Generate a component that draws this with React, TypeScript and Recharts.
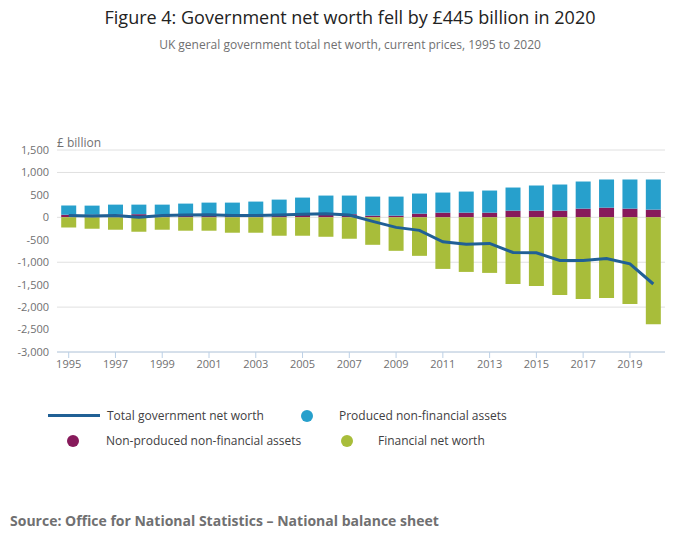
import React from 'react';
import { ComposedChart, Bar, Line, XAxis, YAxis, CartesianGrid } from 'recharts';

const years = Array.from({ length: 26 }, (_, i) => String(1995 + i));
const nonProduced = [60, 60, 65, 70, 60, 65, 70, 60, 60, 65, 75, 75, 70, 37, 37, 82, 104, 104, 104, 149, 149, 149, 194, 216, 194, 172];
const produced = [201, 201, 218, 213, 223, 241, 258, 268, 291, 330, 365, 410, 415, 425, 425, 448, 448, 470, 493, 515, 560, 582, 604, 627, 649, 671];
const financial = [-224, -254, -276, -321, -276, -298, -298, -343, -343, -410, -410, -433, -477, -612, -746, -858, -1149, -1216, -1238, -1484, -1529, -1730, -1820, -1797, -1932, -2380];
const netWorth = [40, 30, 40, 0, 40, 50, 60, 40, 40, 50, 70, 80, 50, -90, -224, -290, -545, -597, -582, -783, -791, -962, -962, -918, -1037, -1485];
const yTicks = [1500, 1000, 500, 0, -500, -1000, -1500, -2000, -2500, -3000];

const data = years.map((year, i) => ({
  year,
  nonProduced: nonProduced[i],
  produced: produced[i],
  financial: financial[i],
  netWorth: netWorth[i],
}));

const font = '"Open Sans", sans-serif';
const fmt = (v: number) => v.toLocaleString('en-GB');

const Dot = ({ color }: { color: string }) => (
  <span style={{ display: 'inline-block', width: 12, height: 12, borderRadius: 6, background: color }} />
);

export default function App() {
  const text = { position: 'absolute' as const, fontFamily: font, color: '#414042' };
  return (
    <div style={{ position: 'relative', width: 700, height: 549, margin: -8, background: '#fff', fontFamily: font }}>
      <div style={{ ...text, top: 5, width: 700, textAlign: 'center', fontSize: 18, color: '#222' }}>
        Figure 4: Government net worth fell by £445 billion in 2020
      </div>
      <div style={{ ...text, top: 36, width: 700, textAlign: 'center', fontSize: 12, color: '#707071' }}>
        UK general government total net worth, current prices, 1995 to 2020
      </div>
      <div style={{ ...text, top: 134, left: 57, fontSize: 12, color: '#707071' }}>£ billion</div>
      <div style={{ position: 'absolute', top: 130, left: 0 }}>
        <ComposedChart width={680} height={250} data={data} stackOffset="sign"
          margin={{ top: 20, right: 15, bottom: 0, left: 0 }} barCategoryGap="18%">
          <CartesianGrid vertical={false} stroke="#e0e0e0" />
          <XAxis dataKey="year" interval={1} height={28} stroke="#bcd0e6" tickLine={{ stroke: '#bcd0e6' }}
            tick={{ fontSize: 11, fill: '#707071', fontFamily: font }} />
          <YAxis width={57} domain={[-3000, 1500]} ticks={yTicks} tickFormatter={fmt} axisLine={false} tickLine={false}
            tick={{ fontSize: 11, fill: '#707071', fontFamily: font }} />
          <Bar dataKey="nonProduced" stackId="a" fill="#871a5b" isAnimationActive={false} />
          <Bar dataKey="produced" stackId="a" fill="#27a0cc" isAnimationActive={false} />
          <Bar dataKey="financial" stackId="a" fill="#a8bd3a" isAnimationActive={false} />
          <Line dataKey="netWorth" type="linear" stroke="#206095" strokeWidth={3} dot={false} isAnimationActive={false} />
        </ComposedChart>
      </div>
      <div style={{ ...text, top: 407, left: 48, fontSize: 12, display: 'flex', alignItems: 'center' }}>
        <span style={{ display: 'inline-block', width: 52, height: 3, background: '#206095', marginRight: 7 }} />
        Total government net worth
      </div>
      <div style={{ ...text, top: 407, left: 301, fontSize: 12, display: 'flex', alignItems: 'center' }}>
        <Dot color="#27a0cc" /><span style={{ marginLeft: 26 }}>Produced non-financial assets</span>
      </div>
      <div style={{ ...text, top: 432, left: 67, fontSize: 12, display: 'flex', alignItems: 'center' }}>
        <Dot color="#871a5b" /><span style={{ marginLeft: 27 }}>Non-produced non-financial assets</span>
      </div>
      <div style={{ ...text, top: 432, left: 341, fontSize: 12, display: 'flex', alignItems: 'center' }}>
        <Dot color="#a8bd3a" /><span style={{ marginLeft: 25 }}>Financial net worth</span>
      </div>
      <div style={{ ...text, top: 511, left: 10, fontSize: 14, fontWeight: 700, color: '#707071' }}>
        Source: Office for National Statistics – National balance sheet
      </div>
    </div>
  );
}
